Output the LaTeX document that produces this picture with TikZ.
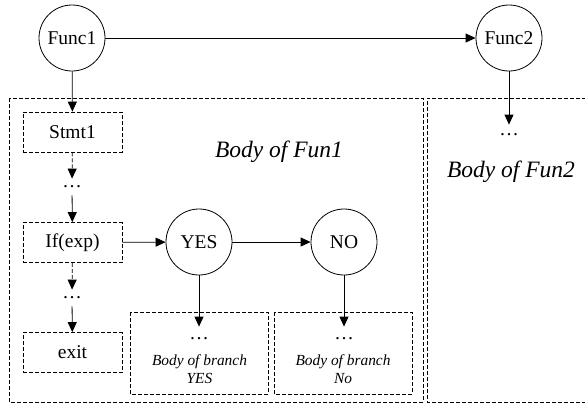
\documentclass[tikz,border=0pt]{standalone}
\usepackage{fontspec}
\setmainfont{Liberation Serif}
\usetikzlibrary{arrows.meta}
\begin{document}
\begin{tikzpicture}[x=1pt,y=-1pt,
  line width=0.8pt,
  txt/.style={font=\fontsize{19.5}{22}\selectfont},
  func/.style={circle,draw,minimum size=66pt,inner sep=0pt,txt},
  boxline/.style={dash pattern=on 4pt off 2pt},
  stmtbox/.style={draw,boxline,minimum width=99pt,minimum height=40pt,inner sep=0pt,txt},
  dotnode/.style={inner sep=0pt,txt},
  biglab/.style={font=\fontsize{23.5}{26}\selectfont\itshape,inner sep=0pt,anchor=base},
  smalllab/.style={font=\fontsize{15.4}{18}\selectfont\itshape,inner sep=0pt,anchor=base},
  arr/.style={-{Triangle[length=10pt,width=9pt]}},
  darr/.style={arr,boxline}]
  \clip (0,0) rectangle (585,405);

  % function bodies
  \draw[boxline] (9,98) rectangle (423,402);
  \draw[boxline] (592,98) -- (427,98) -- (427,402) -- (592,402);

  % function nodes
  \node[func] (f1) at (72,38) {Func1};
  \node[func] (f2) at (509,38) {Func2};

  % statements of Func1
  \node[stmtbox] (s1) at (72.5,132) {Stmt1};
  \node[dotnode,minimum height=16pt] (d1) at (72,187) {\dots};
  \node[stmtbox] (cond) at (72.5,242.5) {If(exp)};
  \node[dotnode,minimum height=16pt] (d2) at (72,298) {\dots};
  \node[stmtbox] (ex) at (72.5,352.5) {exit};

  % branches
  \node[func] (yes) at (199,242) {YES};
  \node[func] (no) at (344,242) {NO};
  \draw[boxline] (130,312) rectangle (268,394);
  \draw[boxline] (274,312) rectangle (412,394);
  \node[dotnode,minimum height=24pt] (dy) at (199,339) {\dots};
  \node[dotnode,minimum height=24pt] (dn) at (344,339) {\dots};
  \node[smalllab] (by1) at (199.5,365) {Body of branch};
  \node[smalllab] (by2) at (199.5,383) {YES};
  \node[smalllab] (bn1) at (343,365) {Body of branch};
  \node[smalllab] (bn2) at (343,383) {No};

  % body of Func2
  \node[dotnode,minimum height=20pt] (d3) at (509,135) {\dots};

  % body labels
  \node[biglab] (l1) at (279,157) {Body of Fun1};
  \node[biglab] (l2) at (511,177) {Body of Fun2};

  % connectors
  \draw[arr] (f1) -- (f2);
  \draw[arr] (f1) -- (s1);
  \draw[darr] (s1) -- (d1);
  \draw[arr] (d1) -- (cond);
  \draw[darr] (cond) -- (d2);
  \draw[arr] (d2) -- (ex);
  \draw[arr] (cond) -- (yes);
  \draw[arr] (yes) -- (no);
  \draw[arr] (yes) -- (dy);
  \draw[arr] (no) -- (dn);
  \draw[arr] (f2) -- (d3);
\end{tikzpicture}
\end{document}
